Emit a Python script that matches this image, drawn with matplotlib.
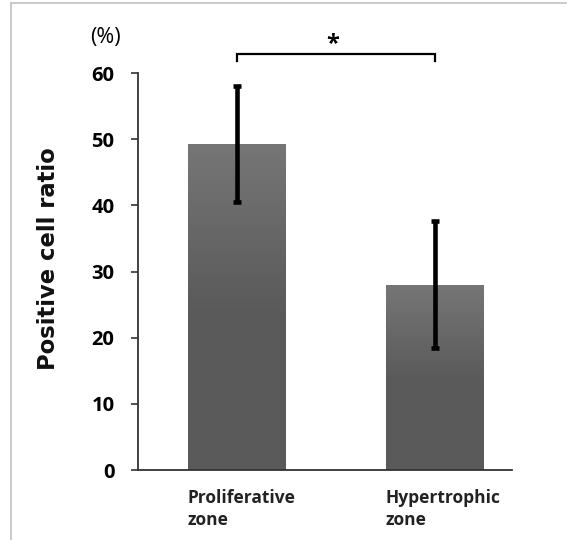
import matplotlib
matplotlib.use("Agg")
import matplotlib.pyplot as plt
import numpy as np

# Data
zones = ["Proliferative\nzone", "Hypertrophic\nzone"]
ratio = [49.3, 28.0]
err = [8.8, 9.6]
yticks = [0, 10, 20, 30, 40, 50, 60]

plt.rcParams['font.family'] = ['Open Sans', 'DejaVu Sans']

fig = plt.figure(figsize=(5.76, 5.4), dpi=100)
ax = fig.add_axes([0.2396, 0.1296, 0.8889 - 0.2396, 0.8648 - 0.1296])

x = np.arange(len(zones))
bars = ax.bar(x, ratio, width=0.495, color="#626262", zorder=1)

# vertical gradient inside each bar
grad = np.linspace(0, 1, 256).reshape(-1, 1)
cmap = matplotlib.colors.LinearSegmentedColormap.from_list(
    "g", ["#5a5a5a", "#5b5b5b", "#767676"])
for b in bars:
    bx, by = b.get_x(), b.get_y()
    w, h = b.get_width(), b.get_height()
    im = ax.imshow(grad, cmap=cmap, origin="lower",
                   extent=[bx, bx + w, by, by + h], aspect="auto", zorder=1.5)
    im.set_clip_path(b)

ax.errorbar(x, ratio, yerr=err, fmt="none", ecolor="black", elinewidth=3.3,
            capsize=3, capthick=3.3, zorder=3)

ax.set_xlim(-0.5, 1.39)
ax.set_ylim(0, 60)
ax.set_yticks(yticks)
ax.set_yticklabels([str(t) for t in yticks], fontsize=14.5, fontweight="bold")
ax.set_xticks([])
for s in ["top", "right"]:
    ax.spines[s].set_visible(False)
for s in ["left", "bottom"]:
    ax.spines[s].set_color("#333333")
    ax.spines[s].set_linewidth(1.3)
ax.tick_params(axis="y", direction="out", length=5, width=1.2, color="#333333", pad=12)

ax.set_ylabel("Positive cell ratio", fontsize=16.3, fontweight="bold",
              family=["DejaVu Sans"], color="#111111")
ax.yaxis.set_label_coords(-0.238, 0.533)
ax.yaxis.label.set_verticalalignment("center")

# category labels, left aligned with bar edges
for b, lab in zip(bars, zones):
    ax.text(b.get_x(), -2.9, lab, ha="left", va="top", fontsize=12.5,
            fontweight="bold", color="#222222", linespacing=1.25)

ax.text(-0.667, 65.4, "(%)", ha="center", va="center", fontsize=15.5, clip_on=False)

# significance bracket
ax.plot([0, 0, 1, 1], [61.85, 62.85, 62.85, 61.85], color="black", lw=1.6,
        clip_on=False, solid_joinstyle="miter")
ax.text(0.485, 63.45, "*", ha="center", va="baseline", fontsize=17, fontweight="bold")

# light frame along top and left edge of the picture
fig.add_artist(plt.Line2D([11 / 576, 566 / 576], [537 / 540, 537 / 540],
                          color="#c0c0c0", lw=1.2))
fig.add_artist(plt.Line2D([11 / 576, 11 / 576], [0, 537 / 540],
                          color="#c0c0c0", lw=1.2))

fig.savefig("out.png", dpi=100)
